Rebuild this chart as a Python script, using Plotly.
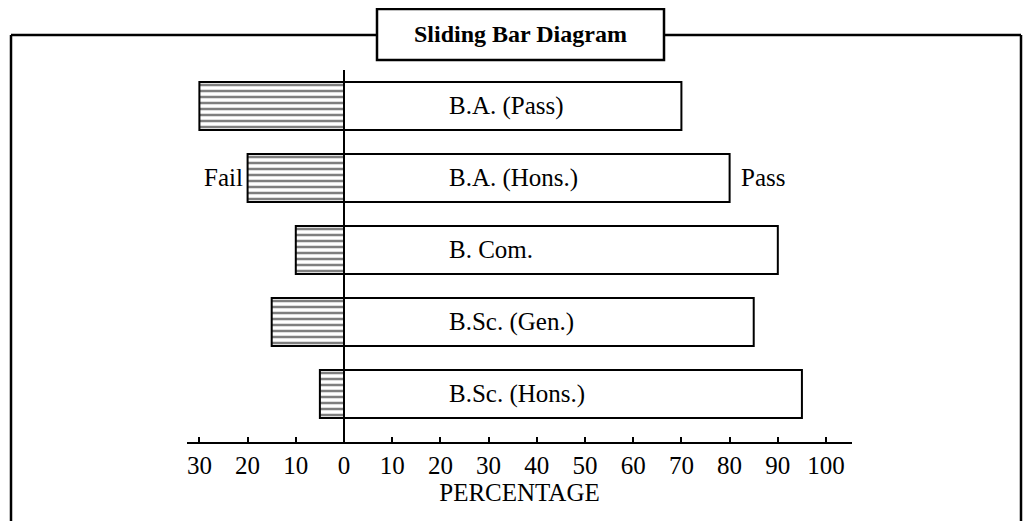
import plotly.graph_objects as go

# ---- data ----
courses = ["B.A. (Pass)", "B.A. (Hons.)", "B. Com.", "B.Sc. (Gen.)", "B.Sc. (Hons.)"]
fail_pct = [30, 20, 10, 15, 5]
pass_pct = [70, 80, 90, 85, 95]
tick_vals = [-30, -20, -10, 0, 10, 20, 30, 40, 50, 60, 70, 80, 90, 100]
tick_text = ["30", "20", "10", "0", "10", "20", "30", "40", "50", "60", "70", "80", "90", "100"]
title_text = "Sliding Bar Diagram"
axis_title = "PERCENTAGE"

# ---- layout geometry (screen pixels; page body has an 8px margin) ----
OFF = 8
W, H = 1032 - OFF, 521 - OFF
L, R, T, B = 187 - OFF, 852 - OFF, 70 - OFF, 442 - OFF
FONT = "Liberation Serif"


def px(x):
    return (x - OFF - L) / (R - L)


def py(y):
    return (B - (y - OFF)) / (B - T)


fig = go.Figure()
fig.add_trace(go.Bar(
    y=courses, x=[-v for v in fail_pct], orientation="h", width=0.667,
    marker=dict(color="white", line=dict(color="black", width=2),
                pattern=dict(shape="-", size=6, solidity=0.42, fgcolor="black", bgcolor="white")),
    showlegend=False, hoverinfo="skip",
))
fig.add_trace(go.Bar(
    y=courses, x=pass_pct, orientation="h", width=0.667,
    marker=dict(color="white", line=dict(color="black", width=2)),
    showlegend=False, hoverinfo="skip",
))

# labels inside pass bars
for c in courses:
    fig.add_annotation(x=21.4, y=c, text=c, xanchor="left", yanchor="middle", showarrow=False,
                       font=dict(family=FONT, size=25, color="black"))

# Fail / Pass labels beside the B.A. (Hons.) bar
fig.add_annotation(x=-fail_pct[1], y=courses[1], text="Fail", xanchor="right", yanchor="middle",
                   xshift=-3, showarrow=False, font=dict(family=FONT, size=25, color="black"))
fig.add_annotation(x=pass_pct[1], y=courses[1], text="Pass", xanchor="left", yanchor="middle",
                   xshift=9, showarrow=False, font=dict(family=FONT, size=25, color="black"))

# outer frame (open at the bottom) and title box
line = dict(color="black", width=2.5)
fig.add_shape(type="line", xref="paper", yref="paper", x0=px(11), y0=py(35), x1=px(377), y1=py(35), line=line)
fig.add_shape(type="line", xref="paper", yref="paper", x0=px(664), y0=py(35), x1=px(1021), y1=py(35), line=line)
fig.add_shape(type="line", xref="paper", yref="paper", x0=px(11), y0=py(35), x1=px(11), y1=py(530), line=line)
fig.add_shape(type="line", xref="paper", yref="paper", x0=px(1021), y0=py(35), x1=px(1021), y1=py(530), line=line)
fig.add_shape(type="rect", xref="paper", yref="paper", x0=px(377), y0=py(9), x1=px(664), y1=py(60),
              line=line, fillcolor="white")
fig.add_annotation(xref="paper", yref="paper", x=px(520.5), y=py(34.5), text="<b>" + title_text + "</b>",
                   showarrow=False, xanchor="center", yanchor="middle",
                   font=dict(family=FONT, size=24, color="black"))

fig.update_layout(
    width=W, height=H,
    margin=dict(l=L, r=W - R, t=T, b=H - B, pad=0),
    paper_bgcolor="white", plot_bgcolor="white",
    barmode="overlay",
    font=dict(family=FONT, size=25, color="black"),
    xaxis=dict(
        range=[-32.57, 105.39], tickmode="array", tickvals=tick_vals, ticktext=tick_text,
        ticks="inside", ticklen=5, tickwidth=1.5, tickcolor="black",
        showline=True, linecolor="black", linewidth=2,
        showgrid=False, zeroline=True, zerolinecolor="black", zerolinewidth=2,
        tickfont=dict(family=FONT, size=25, color="black"),
        title=dict(text=axis_title, font=dict(family=FONT, size=25, color="black"), standoff=4),
        fixedrange=True, layer="above traces",
    ),
    yaxis=dict(
        type="category", categoryorder="array", categoryarray=courses,
        range=[4.667, -0.5], showticklabels=False, showgrid=False, zeroline=False,
        showline=False, ticks="", fixedrange=True,
    ),
)

fig.write_html("out.html")
